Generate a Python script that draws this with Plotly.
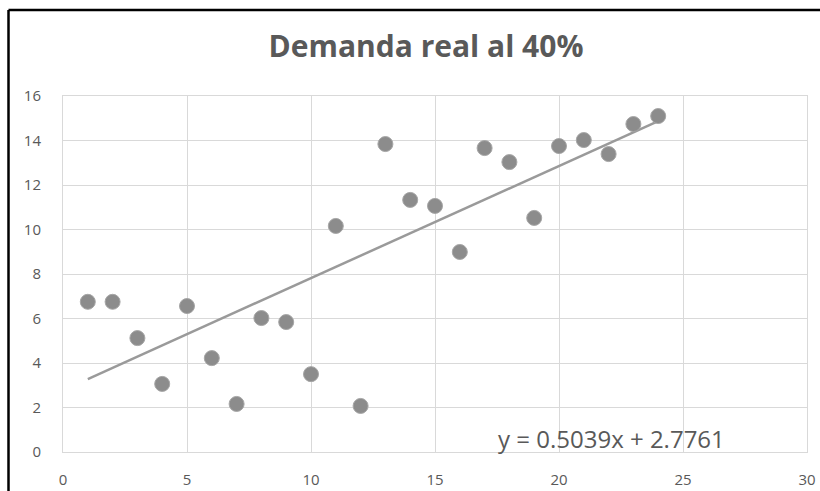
import numpy as np
import plotly.graph_objects as go

# Data
periodo = list(range(1, 25))
demanda = [6.75, 6.75, 5.12, 3.06, 6.56, 4.22, 2.16, 6.02, 5.84, 3.50,
           10.16, 2.07, 13.84, 11.33, 11.06, 8.99, 13.66, 13.03, 10.52, 13.75,
           14.02, 13.39, 14.74, 15.10]
pendiente = 0.5039
intercepto = 2.7761
titulo = "Demanda real al 40%"
x_ticks = [0, 5, 10, 15, 20, 25, 30]
y_ticks = [0, 2, 4, 6, 8, 10, 12, 14, 16]

trend_x = [periodo[0], periodo[-1]]
trend_y = [pendiente * v + intercepto for v in trend_x]

fig = go.Figure()
fig.add_trace(go.Scatter(x=trend_x, y=trend_y, mode="lines",
                         line=dict(color="#9a9a9a", width=2.5),
                         showlegend=False, hoverinfo="skip"))
fig.add_trace(go.Scatter(x=periodo, y=demanda, mode="markers",
                         marker=dict(color="#8c8c8c", size=15,
                                     line=dict(color="#a6a6a6", width=1)),
                         showlegend=False))

L, R, T, B = 63, 13, 96, 39
W, H = 820, 491
pw, ph = W - L - R, H - T - B

def px_x(p):
    return (p - L) / pw

def px_y(p):
    return (H - B - p) / ph

tick_font = dict(family="Open Sans", size=15, color="#595959")

fig.update_layout(
    width=W, height=H,
    margin=dict(l=L, r=R, t=T, b=B, autoexpand=False),
    paper_bgcolor="white", plot_bgcolor="white",
    title=dict(text="<b>" + titulo + "</b>", x=px_x(426), xanchor="center",
               xref="paper", y=1 - 46 / H, yanchor="middle",
               font=dict(family="Open Sans", size=30, color="#595959")),
    xaxis=dict(range=[0, 30], tickvals=x_ticks, showgrid=True,
               gridcolor="#d9d9d9", gridwidth=1, zeroline=False,
               showline=True, linecolor="#d9d9d9", mirror=True, automargin=False,
               ticks="", ticklabelstandoff=14, tickfont=tick_font),
    yaxis=dict(range=[0, 16], tickvals=y_ticks, showgrid=True,
               gridcolor="#d9d9d9", gridwidth=1, zeroline=False,
               showline=True, linecolor="#d9d9d9", mirror=True, automargin=False,
               ticks="", ticklabelstandoff=18, tickfont=tick_font),
    annotations=[dict(text="y = 0.5039x + 2.7761", xref="paper", yref="paper",
                      x=px_x(611), y=px_y(438), xanchor="center", yanchor="middle",
                      showarrow=False,
                      font=dict(family="Open Sans", size=24, color="#595959"))],
    shapes=[
        dict(type="line", xref="paper", yref="paper",
             x0=px_x(8.5), y0=px_y(10), x1=px_x(830), y1=px_y(10),
             line=dict(color="black", width=2.5)),
        dict(type="line", xref="paper", yref="paper",
             x0=px_x(8.5), y0=px_y(10), x1=px_x(8.5), y1=px_y(500),
             line=dict(color="black", width=2.5)),
    ],
)

fig.write_html("out.html")
